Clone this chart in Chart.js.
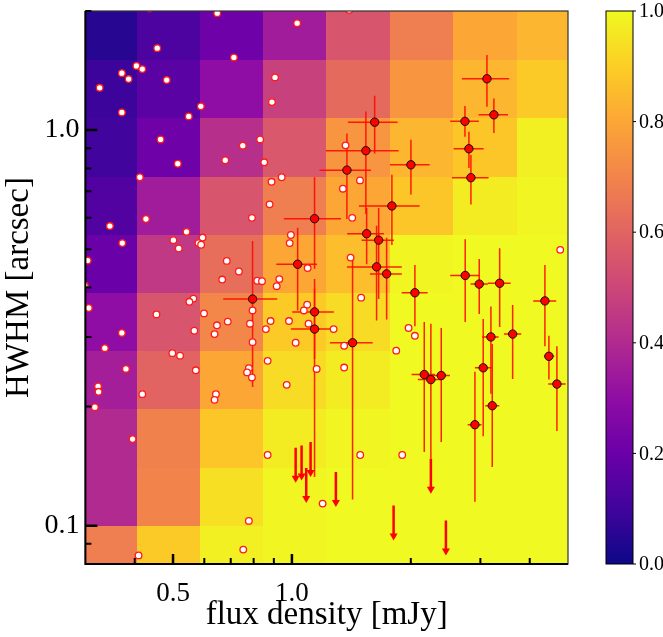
<!DOCTYPE html>
<html>
<head>
<meta charset="utf-8">
<script src="https://cdn.jsdelivr.net/npm/chart.js@4.4.1/dist/chart.umd.min.js"></script>
<style>
html, body { margin: 0; padding: 0; background: #fff; }
canvas { display: block; }
</style>
</head>
<body>
<canvas id="plot" width="663" height="637"></canvas>
<script>
// completeness grid: bin edges and values (rows go from small to large HWHM)
const fluxEdges = [0.28, 0.405, 0.585, 0.845, 1.22, 1.77, 2.56, 3.71, 5.36];
const hwhmEdges = [0.0713, 0.100, 0.140, 0.197, 0.276, 0.387, 0.543, 0.762, 1.07, 1.50, 2.10];
const completeness = [
    [0.68, 0.89, 0.98, 0.99, 1.00, 1.00, 1.00, 1.00],
    [0.40, 0.70, 0.94, 0.99, 1.00, 1.00, 1.00, 1.00],
    [0.40, 0.69, 0.88, 0.97, 0.99, 1.00, 1.00, 1.00],
    [0.36, 0.60, 0.80, 0.93, 0.97, 1.00, 1.00, 1.00],
    [0.30, 0.55, 0.71, 0.89, 0.93, 1.00, 1.00, 1.00],
    [0.20, 0.45, 0.63, 0.80, 0.86, 0.99, 1.00, 1.00],
    [0.14, 0.35, 0.55, 0.68, 0.80, 0.88, 0.97, 0.99],
    [0.10, 0.21, 0.42, 0.56, 0.75, 0.84, 0.88, 0.98],
    [0.09, 0.16, 0.30, 0.48, 0.62, 0.75, 0.84, 0.89],
    [0.05, 0.13, 0.21, 0.35, 0.55, 0.68, 0.80, 0.84]
];

// injected / undetected sources (white)
const whiteFlux = [0.436, 0.647, 1.031, 0.456, 0.713, 0.404, 0.418, 0.371, 0.386, 0.482,
    0.326, 0.906, 0.890, 0.588, 0.548, 0.371, 0.465, 0.831, 0.751, 0.678,
    0.851, 0.514, 0.412, 0.942, 0.888, 1.397, 1.367, 1.487, 1.346, 0.878,
    0.792, 0.427, 0.346, 0.541, 0.994, 0.501, 0.594, 0.580, 0.589, 0.987,
    0.372, 0.517, 0.304, 0.684, 1.096, 0.734, 0.929, 0.666, 0.817, 0.840,
    0.915, 0.299, 0.563, 0.550, 0.306, 1.093, 1.072, 0.795, 0.454, 0.599,
    0.688, 0.883, 0.983, 0.646, 0.783, 1.102, 0.859, 0.566, 0.637, 0.371,
    0.795, 1.022, 0.336, 0.498, 0.521, 0.868, 0.380, 0.571, 0.778, 0.770,
    0.792, 1.155, 1.421, 1.408, 1.497, 1.275, 1.356, 1.356, 1.837, 1.974,
    2.048, 4.778, 0.323, 0.324, 0.418, 0.642, 0.637, 0.970, 0.317, 0.395,
    0.868, 1.196, 0.778, 0.753, 0.409, 1.489, 1.902];
const whiteHwhm = [2.03, 1.975, 1.863, 1.611, 1.526, 1.453, 1.426, 1.393, 1.346, 1.338,
    1.279, 1.359, 1.177, 1.148, 1.083, 1.108, 0.947, 0.947, 0.913, 0.839,
    0.829, 0.822, 0.760, 0.760, 0.740, 2.013, 0.915, 0.746, 0.711, 0.649,
    0.600, 0.596, 0.572, 0.553, 0.543, 0.527, 0.535, 0.518, 0.513, 0.518,
    0.518, 0.502, 0.468, 0.467, 0.448, 0.439, 0.420, 0.419, 0.416, 0.415,
    0.403, 0.405, 0.375, 0.368, 0.355, 0.362, 0.350, 0.350, 0.342, 0.344,
    0.328, 0.329, 0.329, 0.321, 0.324, 0.324, 0.314, 0.311, 0.305, 0.307,
    0.291, 0.290, 0.281, 0.273, 0.269, 0.261, 0.249, 0.247, 0.250, 0.244,
    0.237, 0.249, 0.600, 0.476, 0.377, 0.314, 0.285, 0.251, 0.277, 0.316,
    0.302, 0.498, 0.225, 0.218, 0.215, 0.215, 0.208, 0.227, 0.1993, 0.1655,
    0.1509, 0.1137, 0.1028, 0.0870, 0.0841, 0.1509, 0.1509];

// detected sources (red) with error ranges
const redFlux   = [3.117, 3.246, 1.620, 2.742, 1.539, 2.806, 1.378, 2.001, 2.839, 1.791,
    1.546, 1.658, 1.638, 1.737, 2.048, 2.746, 2.980, 3.357, 4.370, 1.424,
    3.190, 3.621, 4.473, 3.050, 2.163, 2.248, 2.388, 2.906, 3.215, 4.687,
    1.141, 1.034, 1.141, 1.141, 0.795];
const redFluxLo = [2.694, 2.969, 1.386, 2.516, 1.219, 2.567, 1.175, 1.771, 2.542, 1.478,
    1.380, 1.501, 1.378, 1.576, 1.896, 2.516, 2.834, 3.135, 4.082, 1.248,
    3.032, 3.441, 4.345, 2.906, 2.009, 2.084, 2.172, 2.786, 3.087, 4.456,
    0.954, 0.913, 1.002, 0.994, 0.670];
const redFluxHi = [3.549, 3.523, 1.852, 2.974, 1.863, 3.057, 1.585, 2.232, 3.147, 2.105,
    1.710, 1.812, 1.898, 1.898, 2.206, 2.980, 3.135, 3.579, 4.668, 1.601,
    3.337, 3.807, 4.614, 3.203, 2.301, 2.398, 2.512, 3.021, 3.349, 4.932,
    1.331, 1.157, 1.277, 1.277, 0.918];
const redHwhm   = [1.348, 1.093, 1.047, 1.052, 0.887, 0.897, 0.792, 0.817, 0.758, 0.643,
    0.547, 0.527, 0.451, 0.433, 0.388, 0.429, 0.408, 0.410, 0.370, 0.290,
    0.300, 0.305, 0.268, 0.2506, 0.241, 0.234, 0.2396, 0.180, 0.201, 0.228,
    0.597, 0.458, 0.347, 0.314, 0.374];
const redHwhmLo = [1.145, 0.983, 0.873, 0.962, 0.614, 0.802, 0.596, 0.687, 0.648, 0.512,
    0.458, 0.374, 0.330, 0.332, 0.319, 0.327, 0.343, 0.318, 0.284, 0.1165,
    0.2155, 0.235, 0.234, 0.1684, 0.1535, 0.1476, 0.1627, 0.115, 0.1406, 0.1734,
    0.446, 0.350, 0.264, 0.1327, 0.224];
const redHwhmHi = [1.549, 1.202, 1.221, 1.150, 1.115, 0.990, 0.981, 0.945, 0.865, 0.771,
    0.635, 0.635, 0.573, 0.534, 0.456, 0.530, 0.472, 0.503, 0.456, 0.476,
    0.358, 0.361, 0.302, 0.333, 0.327, 0.324, 0.316, 0.245, 0.288, 0.284,
    0.760, 0.566, 0.420, 0.397, 0.524];

// upper limits on size
const limFlux = [1.022, 1.058, 1.087, 1.115, 1.292, 2.248, 1.809, 2.454];
const limHwhm = [0.1574, 0.1595, 0.1398, 0.1627, 0.1367, 0.1476, 0.1125, 0.1031];

// ticks
const xTickLabels = [0.5, 1.0];
const xMinorTicks = [0.4, 0.6, 0.7, 0.8, 0.9, 2, 3, 4];
const yTickLabels = [0.1, 1.0];
const yMinorTicks = [0.09, 0.2, 0.3, 0.4, 0.5, 0.6, 0.7, 0.8, 0.9, 2];
const cbarTicks = [0.0, 0.2, 0.4, 0.6, 0.8, 1.0];

const FONT = "'Liberation Serif', 'Times New Roman', serif";
const plasmaStops = ['#0d0887', '#41049d', '#6a00a8', '#8f0da4', '#b12a90', '#cc4778',
    '#e16462', '#f2844b', '#fca636', '#fcce25', '#f0f921'];

function hexRgb(h) {
    return [parseInt(h.slice(1, 3), 16), parseInt(h.slice(3, 5), 16), parseInt(h.slice(5, 7), 16)];
}

function plasma(v) {
    v = Math.max(0, Math.min(1, v));
    const p = v * 10;
    const i = Math.min(9, Math.floor(p));
    const t = p - i;
    const a = hexRgb(plasmaStops[i]), b = hexRgb(plasmaStops[i + 1]);
    const c = a.map((ch, k) => Math.round(ch + (b[k] - ch) * t));
    return 'rgb(' + c.join(',') + ')';
}

// grid, error bars and limit arrows underneath the points
const backgroundPlugin = {
    id: 'backgroundPlugin',
    beforeDatasetsDraw: (chart) => {
        const {ctx, chartArea: a, scales: {x, y}} = chart;
        ctx.save();
        ctx.beginPath();
        ctx.rect(a.left, a.top, a.width, a.height);
        ctx.clip();

        for (let r = 0; r < completeness.length; r++) {
            for (let c = 0; c < completeness[r].length; c++) {
                const x0 = Math.round(x.getPixelForValue(fluxEdges[c]));
                const x1 = Math.round(x.getPixelForValue(fluxEdges[c + 1]));
                const y0 = Math.round(y.getPixelForValue(hwhmEdges[r]));
                const y1 = Math.round(y.getPixelForValue(hwhmEdges[r + 1]));
                ctx.fillStyle = plasma(completeness[r][c]);
                ctx.fillRect(x0, y1, x1 - x0, y0 - y1);
            }
        }

        // error bars
        ctx.strokeStyle = 'rgba(255, 10, 0, 0.9)';
        ctx.lineWidth = 1.5;
        for (let i = 0; i < redFlux.length; i++) {
            const px = x.getPixelForValue(redFlux[i]);
            const py = y.getPixelForValue(redHwhm[i]);
            ctx.beginPath();
            ctx.moveTo(x.getPixelForValue(redFluxLo[i]), py);
            ctx.lineTo(x.getPixelForValue(redFluxHi[i]), py);
            ctx.moveTo(px, y.getPixelForValue(redHwhmHi[i]));
            ctx.lineTo(px, y.getPixelForValue(redHwhmLo[i]));
            ctx.stroke();
        }

        // upper limit arrows
        ctx.strokeStyle = '#ff0000';
        ctx.fillStyle = '#ff0000';
        ctx.lineWidth = 2.5;
        for (let i = 0; i < limFlux.length; i++) {
            const px = x.getPixelForValue(limFlux[i]);
            const py = y.getPixelForValue(limHwhm[i]);
            ctx.beginPath();
            ctx.moveTo(px, py);
            ctx.lineTo(px, py + 30);
            ctx.stroke();
            ctx.beginPath();
            ctx.moveTo(px - 4, py + 28);
            ctx.lineTo(px + 4, py + 28);
            ctx.lineTo(px, py + 35);
            ctx.closePath();
            ctx.fill();
        }
        ctx.restore();
    }
};

// frame, inward ticks and colorbar
const framePlugin = {
    id: 'framePlugin',
    afterDraw: (chart) => {
        const {ctx, chartArea: a, scales: {x, y}} = chart;
        ctx.save();
        ctx.strokeStyle = '#333';
        ctx.lineWidth = 1.2;
        ctx.strokeRect(a.left, a.top, a.width, a.height);
        ctx.strokeStyle = '#000';
        ctx.lineWidth = 2;
        ctx.beginPath();
        ctx.moveTo(a.left, a.top);
        ctx.lineTo(a.left, a.bottom);
        ctx.lineTo(a.right, a.bottom);
        ctx.stroke();

        ctx.lineWidth = 2.5;
        ctx.beginPath();
        xTickLabels.forEach(v => {
            const px = x.getPixelForValue(v);
            ctx.moveTo(px, a.bottom); ctx.lineTo(px, a.bottom - 10);
        });
        yTickLabels.forEach(v => {
            const py = y.getPixelForValue(v);
            ctx.moveTo(a.left, py); ctx.lineTo(a.left + 12, py);
        });
        ctx.stroke();
        ctx.lineWidth = 2;
        ctx.beginPath();
        xMinorTicks.forEach(v => {
            const px = x.getPixelForValue(v);
            ctx.moveTo(px, a.bottom); ctx.lineTo(px, a.bottom - 6);
        });
        yMinorTicks.forEach(v => {
            const py = y.getPixelForValue(v);
            ctx.moveTo(a.left, py); ctx.lineTo(a.left + 6, py);
        });
        ctx.stroke();

        // colorbar
        const bx = a.right + 38, bw = 27;
        const grad = ctx.createLinearGradient(0, a.bottom, 0, a.top);
        plasmaStops.forEach((c, i) => grad.addColorStop(i / 10, c));
        ctx.fillStyle = grad;
        ctx.fillRect(bx, a.top, bw, a.height);
        ctx.strokeStyle = '#000';
        ctx.lineWidth = 1;
        ctx.strokeRect(bx, a.top, bw, a.height);
        ctx.fillStyle = '#000';
        ctx.font = '20px ' + FONT;
        ctx.textBaseline = 'middle';
        ctx.textAlign = 'left';
        cbarTicks.forEach(v => {
            const py = a.bottom - v * a.height;
            ctx.beginPath();
            ctx.moveTo(bx + bw, py); ctx.lineTo(bx + bw + 3, py);
            ctx.stroke();
            ctx.fillText(v.toFixed(1), bx + bw + 6, py + 1);
        });
        ctx.restore();
    }
};

const whitePoints = whiteFlux.map((f, i) => ({x: f, y: whiteHwhm[i]}));
const redPoints = redFlux.map((f, i) => ({x: f, y: redHwhm[i]}));

const chart = new Chart(document.getElementById('plot'), {
    type: 'scatter',
    data: {
        datasets: [{
            data: redPoints,
            backgroundColor: '#ff0000',
            borderColor: '#111',
            borderWidth: 1,
            pointRadius: 4.2,
            clip: 0
        }, {
            data: whitePoints,
            backgroundColor: '#ffffff',
            borderColor: '#ff1a1a',
            borderWidth: 1.3,
            pointRadius: 3.3,
            clip: 0
        }]
    },
    options: {
        responsive: false,
        animation: false,
        events: [],
        layout: {padding: {left: 0, right: 95, top: 11, bottom: 0}},
        plugins: {legend: {display: false}, tooltip: {enabled: false}},
        scales: {
            x: {
                type: 'logarithmic',
                min: 0.3,
                max: 5,
                afterFit: (s) => {
                    s.height = 73;
                    s.paddingLeft = 0;
                    s.paddingRight = 0;
                },
                afterBuildTicks: (s) => { s.ticks = xTickLabels.map(v => ({value: v})); },
                grid: {display: false, drawTicks: false},
                border: {display: false},
                ticks: {
                    autoSkip: false,
                    maxRotation: 0,
                    padding: 14,
                    color: '#000',
                    font: {family: FONT, size: 27},
                    callback: (v) => Number(v).toFixed(1)
                },
                title: {
                    display: true,
                    text: 'flux density [mJy]',
                    color: '#000',
                    font: {family: FONT, size: 33},
                    padding: {top: 0, bottom: 2}
                }
            },
            y: {
                type: 'logarithmic',
                min: 0.08,
                max: 2,
                afterFit: (s) => {
                    s.width = 85.4;
                    s.paddingTop = 0;
                    s.paddingBottom = 0;
                },
                afterBuildTicks: (s) => { s.ticks = yTickLabels.map(v => ({value: v})); },
                grid: {display: false, drawTicks: false},
                border: {display: false},
                ticks: {
                    autoSkip: false,
                    padding: 6,
                    color: '#000',
                    font: {family: FONT, size: 28},
                    callback: (v) => Number(v).toFixed(1)
                },
                title: {
                    display: true,
                    text: 'HWHM [arcsec]',
                    color: '#000',
                    font: {family: FONT, size: 33},
                    padding: {top: 0, bottom: 0}
                }
            }
        }
    },
    plugins: [backgroundPlugin, framePlugin]
});
</script>
</body>
</html>
